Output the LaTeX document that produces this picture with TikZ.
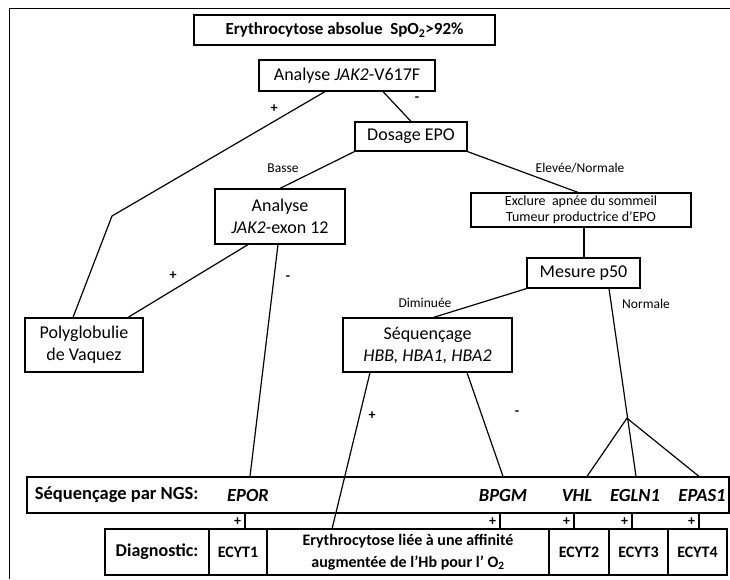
\documentclass[tikz,border=0pt]{standalone}
\usepackage{fontspec}
\setmainfont{Carlito}
\usepackage{tikz}
\usetikzlibrary{positioning,calc}

\begin{document}
\begin{tikzpicture}[x=1pt,y=-1pt,line width=1.2pt,
box/.style={rectangle,draw,inner sep=0pt,align=center,font=\fontsize{18}{22}\selectfont},
cell/.style={rectangle,draw,inner sep=0pt,outer sep=0pt,minimum height=46pt,align=center,font=\bfseries\fontsize{16}{22}\selectfont},
lab/.style={font=\fontsize{13.5}{14}\selectfont},
sgn/.style={font=\bfseries\fontsize{14}{14}\selectfont},
gene/.style={font=\bfseries\itshape\fontsize{18.5}{20}\selectfont}
]
\useasboundingbox (0,0) rectangle (730,579);
\draw [line width=1pt] (9,579) -- (9,8) -- (730,8);
% boxes
\node [box,font=\bfseries\fontsize{17}{20}\selectfont,minimum width=301pt,minimum height=30pt] (abs) at (344.5,30) {Erythrocytose absolue\ \ SpO\textsubscript{2}>92\%};
\node [box,minimum width=176pt,minimum height=31pt] (jak) at (347,75.5) {Analyse \textit{JAK2}-V617F};
\node [box,minimum width=112pt,minimum height=29pt] (epo) at (411,136.5) {Dosage EPO};
\node [box,minimum width=130pt,minimum height=55pt] (exon) at (280,216.5) {Analyse\\\textit{JAK2}-exon 12};
\node [box,font=\fontsize{14}{16.5}\selectfont,minimum width=220pt,minimum height=34pt] (excl) at (581,210) {Exclure\ \ apnée du sommeil\\Tumeur productrice d’EPO};
\node [box,minimum width=113pt,minimum height=30pt] (p50) at (583.5,273) {Mesure p50};
\node [box,minimum width=169pt,minimum height=54pt] (seq) at (427.5,345) {Séquençage\\\textit{HBB, HBA1, HBA2}};
\node [box,minimum width=118pt,minimum height=54pt] (poly) at (84,345) {Polyglobulie\\de Vaquez};
% NGS row
\node [box,minimum width=702pt,minimum height=36pt] (ngs) at (378,495) {};
\node [font=\bfseries\fontsize{18.5}{20}\selectfont,anchor=west] (ngstxt) at (31,495) {Séquençage par NGS:};
\node [gene] (epor) at (248,495) {EPOR};
\node [gene] (bpgm) at (503,495) {BPGM};
\node [gene] (vhl) at (577,495) {VHL};
\node [gene] (egln) at (635,495) {EGLN1};
\node [gene] (epas) at (702,495) {EPAS1};
% diagnostic row
\node [cell,minimum width=104pt,font=\bfseries\fontsize{18}{20}\selectfont] (diag) at (157,552) {Diagnostic:};
\node [cell,minimum width=58pt,right=0pt of diag] (ecyt1) {ECYT1};
\node [cell,minimum width=282pt,right=0pt of ecyt1] (ery) {Erythrocytose liée à une affinité\\augmentée de l’Hb pour l’ O\textsubscript{2}};
\node [cell,minimum width=60pt,right=0pt of ery] (ecyt2) {ECYT2};
\node [cell,minimum width=59pt,right=0pt of ecyt2] (ecyt3) {ECYT3};
\node [cell,minimum width=59pt,right=0pt of ecyt3] (ecyt4) {ECYT4};
% connectors
\coordinate (bend) at (112,216);
\draw ([xshift=-22pt]jak.south) -- (bend) -- ([xshift=-11pt]poly.north);
\node [sgn] (pjak) at (274,109) {+};
\draw ([xshift=36pt]jak.south) -- (epo.north);
\node [sgn] (mjak) at (417,99) {-};
\draw (epo.south west) -- (exon.north);
\node [lab] (basse) at (283,168) {Basse};
\draw (epo.south east) -- ([xshift=-3pt]excl.north);
\node [lab] (haute) at (580,168) {Elevée/Normale};
\draw ([xshift=3pt]excl.south) -- ($(excl.south |- p50.north)+(3,0)$);
\draw (p50.south west) -- ([xshift=6pt]seq.north);
\node [lab] (dimin) at (425,303) {Diminuée};
\draw ([xshift=25.5pt]p50.south) -- ($(egln.north |- ngs.north)+(1,0)$);
\node [lab] (norm) at (646,304) {Normale};
\coordinate (fork) at ($([xshift=25.5pt]p50.south)!0.69!(egln.north |- ngs.north)$);
\draw ($(vhl.north |- ngs.north)+(10,0)$) -- (fork) -- ($(epas.north |- ngs.north)+(-3,0)$);
\draw ([xshift=-32pt]exon.south) -- ([xshift=44pt]poly.north);
\node [sgn] (pexon) at (173,276) {+};
\draw ([xshift=-2pt]exon.south) -- ($(epor |- ngs.north)+(2,0)$);
\node [sgn] (mexon) at (288,278) {-};
\draw ([xshift=-57.5pt]seq.south) -- ([xshift=-76pt]ery.north);
\node [sgn] (pseq) at (372,416) {+};
\draw ([xshift=39.5pt]seq.south) -- (bpgm |- ngs.north);
\node [sgn] (mseq) at (517,413) {-};
\foreach \g/\c in {epor/ecyt1,bpgm/ery,vhl/ecyt2,egln/ecyt3,epas/ecyt4}
  \draw ($(\g |- ngs.south)+(-3,0)$) -- ($(\g |- \c.north)+(-3,0)$) node [sgn,left=0pt,midway] {+};
\end{tikzpicture}
\end{document}
